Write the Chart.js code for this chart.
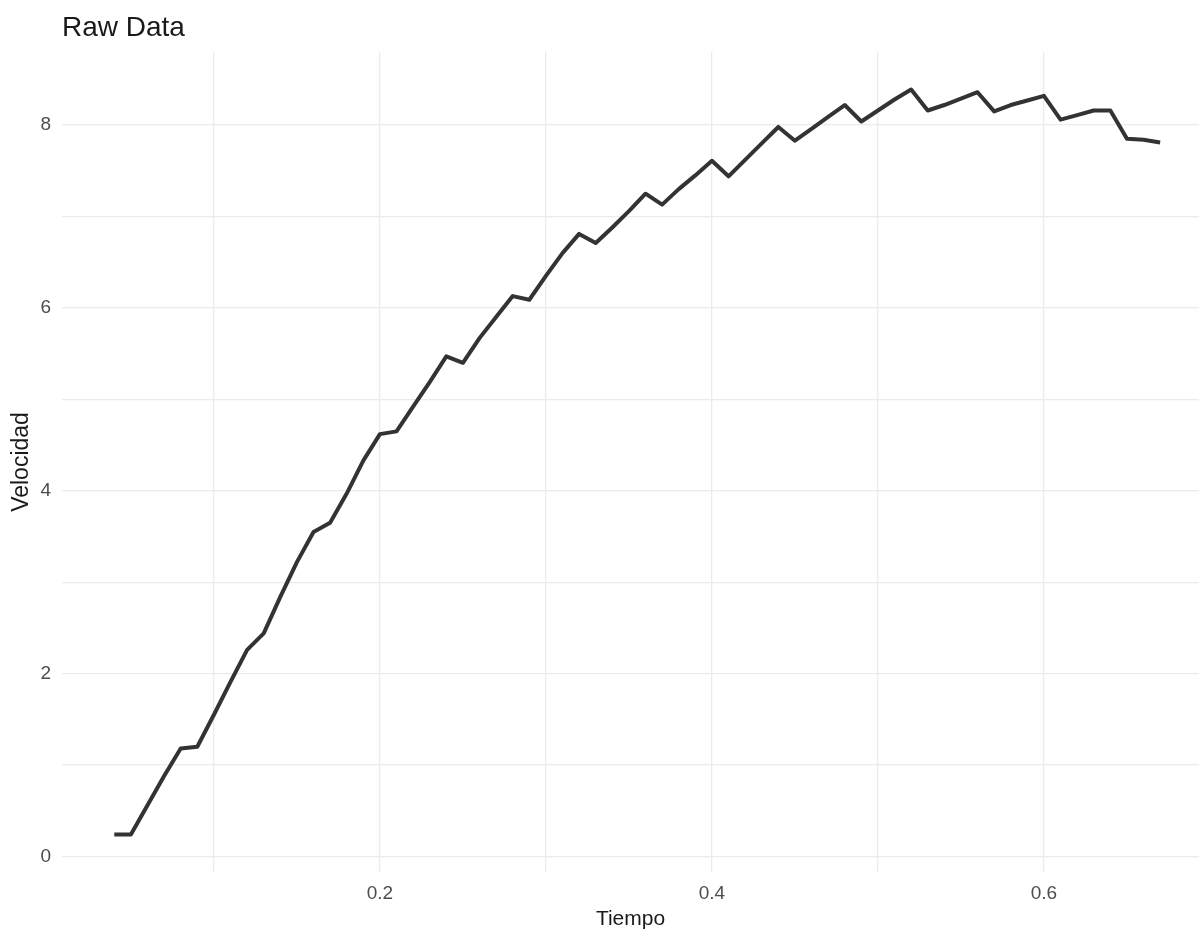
<!DOCTYPE html>
<html>
<head>
<meta charset="utf-8">
<title>Raw Data</title>
<script src="https://cdn.jsdelivr.net/npm/chart.js@4"></script>
<style>
  html, body { margin: 0; padding: 0; background: #fff; }
  #wrap { width: 1199px; height: 934px; }
</style>
</head>
<body>
<div id="wrap"><canvas id="chart" width="1199" height="934"></canvas></div>
<script>
// data
var tiempo = [0.04, 0.05, 0.06, 0.07, 0.08, 0.09, 0.10, 0.11, 0.12, 0.13,
  0.14, 0.15, 0.16, 0.17, 0.18, 0.19, 0.20, 0.21, 0.22, 0.23,
  0.24, 0.25, 0.26, 0.27, 0.28, 0.29, 0.30, 0.31, 0.32, 0.33,
  0.34, 0.35, 0.36, 0.37, 0.38, 0.39, 0.40, 0.41, 0.42, 0.43,
  0.44, 0.45, 0.46, 0.47, 0.48, 0.49, 0.50, 0.51, 0.52, 0.53,
  0.54, 0.55, 0.56, 0.57, 0.58, 0.59, 0.60, 0.61, 0.62, 0.63,
  0.64, 0.65, 0.66, 0.67];
var velocidad = [0.24, 0.24, 0.56, 0.88, 1.18, 1.20, 1.55, 1.91, 2.26, 2.44,
  2.84, 3.22, 3.55, 3.65, 3.97, 4.33, 4.62, 4.65, 4.92, 5.19,
  5.47, 5.40, 5.67, 5.90, 6.13, 6.09, 6.35, 6.60, 6.81, 6.71,
  6.88, 7.06, 7.25, 7.13, 7.30, 7.45, 7.61, 7.44, 7.62, 7.80,
  7.98, 7.83, 7.96, 8.09, 8.22, 8.04, 8.16, 8.28, 8.39, 8.16,
  8.22, 8.29, 8.36, 8.15, 8.22, 8.27, 8.32, 8.06, 8.11, 8.16,
  8.16, 7.85, 7.84, 7.81];

// gridlines (labels only on the even ones)
var xTicks = [0.1, 0.2, 0.3, 0.4, 0.5, 0.6];
var xLabels = ['', '0.2', '', '0.4', '', '0.6'];
var yTicks = [0, 1, 2, 3, 4, 5, 6, 7, 8];
var yLabels = ['0', '', '2', '', '4', '', '6', '', '8'];

var chartTitle = 'Raw Data';
var xTitle = 'Tiempo';
var yTitle = 'Velocidad';

var FONT = '"Liberation Sans", Arial, sans-serif';

var points = tiempo.map(function(t, i){ return {x: t, y: velocidad[i]}; });

// ggplot-ish title, left aligned on the panel
var titlePlugin = {
  id: 'plotTitle',
  afterDraw: function(chart){
    var ctx = chart.ctx;
    ctx.save();
    ctx.font = '28px ' + FONT;
    ctx.fillStyle = '#1a1a1a';
    ctx.textBaseline = 'alphabetic';
    ctx.textAlign = 'left';
    ctx.fillText(chartTitle, chart.chartArea.left, 36);
    ctx.restore();
  }
};

new Chart(document.getElementById('chart'), {
  type: 'line',
  data: {
    datasets: [{
      data: points,
      borderColor: '#333333',
      borderWidth: 4,
      borderJoinStyle: 'round',
      pointRadius: 0,
      tension: 0,
      fill: false
    }]
  },
  options: {
    responsive: false,
    animation: false,
    layout: { padding: { top: 52, right: 0, bottom: 0, left: 0 } },
    plugins: {
      legend: { display: false },
      title: { display: false },
      tooltip: { enabled: false }
    },
    scales: {
      x: {
        type: 'linear',
        min: 0.0085,
        max: 0.6934,
        afterBuildTicks: function(scale){
          scale.ticks = xTicks.map(function(v){ return {value: v}; });
        },
        afterFit: function(scale){ scale.height = 62; },
        border: { display: false },
        grid: { color: '#ebebeb', lineWidth: 1.3, drawTicks: false },
        ticks: {
          autoSkip: false,
          maxRotation: 0,
          padding: 10,
          color: '#4d4d4d',
          font: { family: FONT, size: 19 },
          callback: function(v, i){ return xLabels[i]; }
        },
        title: {
          display: true,
          text: xTitle,
          color: '#1a1a1a',
          font: { family: FONT, size: 21 },
          padding: { top: 0, bottom: 2 }
        }
      },
      y: {
        type: 'linear',
        min: -0.17,
        max: 8.8,
        afterBuildTicks: function(scale){
          scale.ticks = yTicks.map(function(v){ return {value: v}; });
        },
        afterFit: function(scale){ scale.width = 62; },
        border: { display: false },
        grid: { color: '#ebebeb', lineWidth: 1.3, drawTicks: false },
        ticks: {
          autoSkip: false,
          padding: 11,
          color: '#4d4d4d',
          font: { family: FONT, size: 19 },
          callback: function(v, i){ return yLabels[i]; }
        },
        title: {
          display: true,
          text: yTitle,
          color: '#1a1a1a',
          font: { family: FONT, size: 23 },
          padding: { top: 8, bottom: 0 }
        }
      }
    }
  },
  plugins: [titlePlugin]
});
</script>
</body>
</html>
